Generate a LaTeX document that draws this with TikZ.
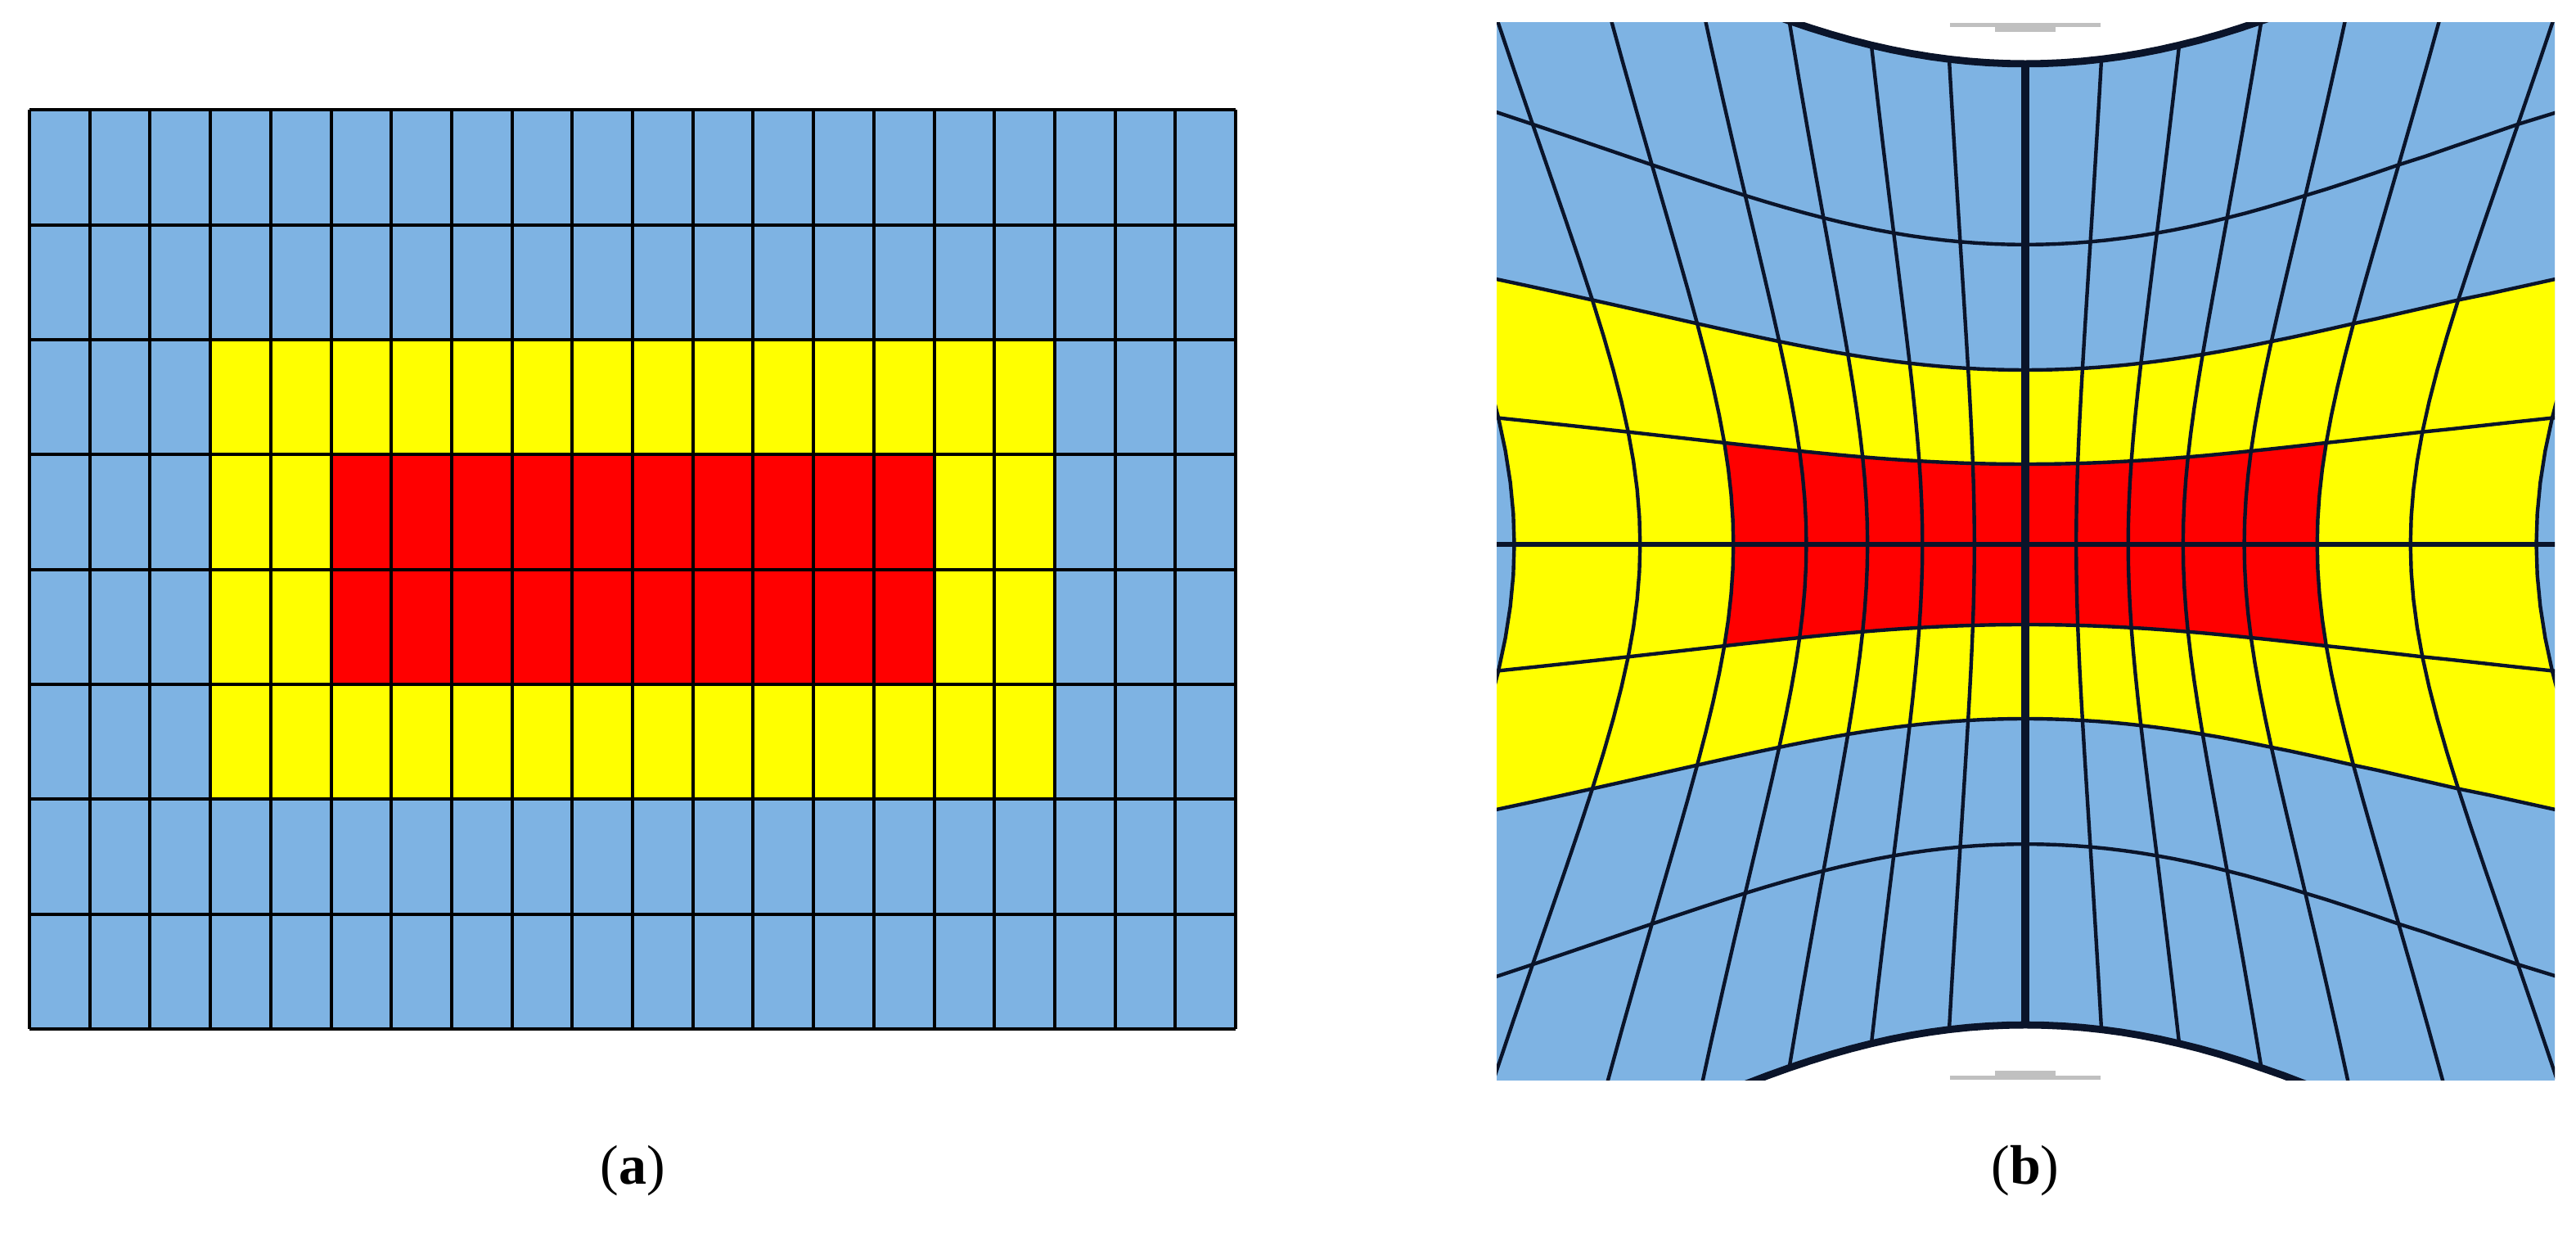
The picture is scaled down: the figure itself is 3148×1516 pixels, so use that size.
\documentclass[tikz,border=0pt]{standalone}
\usepackage{fontspec}
\setmainfont{Liberation Serif}
\definecolor{cblue}{RGB}{126,179,227}
\definecolor{cyel}{RGB}{255,255,0}
\definecolor{cred}{RGB}{255,0,0}
\definecolor{gline}{RGB}{10,20,42}
\definecolor{cgray}{RGB}{192,192,192}
\newcommand\warpfill[5]{%
  \fill[#1] plot[domain=#2:#3,samples=61] ({fx(\x,#4)},{fy(\x,#4)})
    -- plot[domain=#4:#5,samples=33] ({fx(#3,\x)},{fy(#3,\x)})
    -- plot[domain=#3:#2,samples=61] ({fx(\x,#5)},{fy(\x,#5)})
    -- plot[domain=#5:#4,samples=33] ({fx(#2,\x)},{fy(#2,\x)}) -- cycle;}
\begin{document}
\begin{tikzpicture}[x=0.25pt,y=-0.25pt,
  declare function={
    fx(\p,\q)=62*\p*(1+0.00297*\p*\p+0.000129*\p*\p*\p*\p)*(1+0.031*\q*\q);
    fy(\p,\q)=95.3*\q*(1+0.0279*\q*\q+0.000364*\q*\q*\q*\q)*(1+0.0095*\p*\p+0.00004*\p*\p*\p*\p);
  },
  lgrid/.style={line width=1pt, black},
  wline/.style={line width=1.1pt, gline},
  cline/.style={line width=2.4pt, gline},
  bline/.style={line width=2.2pt, gline},
  lab/.style={font=\fontsize{17}{20}\selectfont, inner sep=0pt}]
\useasboundingbox (0,0) rectangle (3148,1516);

% ---------- panel (a) ----------
\def\cw{73.7}\def\ch{140.3}\def\xo{36}\def\yo{134.5}
\fill[cblue] (\xo,\yo) rectangle ({\xo+20*\cw},{\yo+8*\ch});
\fill[cyel] ({\xo+3*\cw},{\yo+2*\ch}) rectangle ({\xo+17*\cw},{\yo+6*\ch});
\fill[cred] ({\xo+5*\cw},{\yo+3*\ch}) rectangle ({\xo+15*\cw},{\yo+5*\ch});
\foreach \i in {0,...,20}
  \draw[lgrid] ({\xo+\i*\cw},\yo) -- ({\xo+\i*\cw},{\yo+8*\ch});
\foreach \j in {0,...,8}
  \draw[lgrid] (\xo,{\yo+\j*\ch}) -- ({\xo+20*\cw},{\yo+\j*\ch});

% ---------- panel (b) ----------
\begin{scope}
  \clip (1829,28) rectangle (3122,1319);
  \begin{scope}[shift={(2475,665)}]
    \warpfill{cblue}{-10}{10}{-4}{4}
    \warpfill{cyel}{-7}{7}{-2}{2}
    \warpfill{cred}{-5}{5}{-1}{1}
    \foreach \j in {-3,-2,-1,1,2,3}
      \draw[wline] plot[domain=-10:10,samples=81] ({fx(\x,\j)},{fy(\x,\j)});
    \draw[line width=1.3pt, gline] plot[domain=-10:10,samples=81] ({fx(\x,0)},{fy(\x,0)});
    \foreach \j in {-4,4}
      \draw[bline] plot[domain=-10:10,samples=81] ({fx(\x,\j)},{fy(\x,\j)});
    \foreach \i in {-9,...,-1,1,2,...,9}
      \draw[wline] plot[domain=-4:4,samples=33] ({fx(\i,\x)},{fy(\i,\x)});
    \draw[cline] plot[domain=-4:4,samples=33] ({fx(0,\x)},{fy(0,\x)});
  \end{scope}
  \fill[cgray] (2383,28) rectangle (2567,33);
  \fill[cgray] (2438,33) rectangle (2512,39);
  \fill[cgray] (2383,1314) rectangle (2567,1319);
  \fill[cgray] (2438,1308) rectangle (2512,1314);
\end{scope}

% ---------- labels ----------
\node[lab] (la) at (773,1430) {(\textbf{a})};
\node[lab] (lb) at (2475,1430) {(\textbf{b})};
\end{tikzpicture}
\end{document}
